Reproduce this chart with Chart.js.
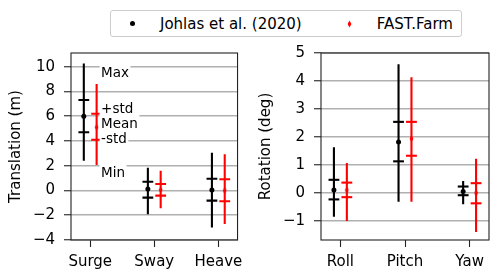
<!DOCTYPE html>
<html><head><meta charset="utf-8">
<script src="https://cdn.jsdelivr.net/npm/chart.js@4.4.0/dist/chart.umd.min.js"></script>
<style>
html,body{margin:0;padding:0;background:#fff;}
#wrap{position:relative;width:500px;height:280px;overflow:hidden;font-family:"DejaVu Sans";}
canvas{position:absolute;top:0;}
#c1{left:0px;} #c2{left:250px;}
#legend{position:absolute;left:110px;top:10px;width:352px;height:27px;border:1px solid #cccccc;border-radius:3px;background:#fff;box-sizing:border-box;font-size:15px;color:#000;line-height:17px;}
#legend span{position:absolute;top:4.6px;white-space:nowrap;}
#dot{position:absolute;left:18.7px;top:10px;width:5px;height:5px;border-radius:50%;background:#000;}
#dia{position:absolute;left:236px;top:9px;}
</style></head>
<body>
<div id="wrap">
<canvas id="c1" width="250" height="280"></canvas>
<canvas id="c2" width="250" height="280"></canvas>
<div id="legend">
  <div id="dot"></div><span style="left:49px">Johlas et al. (2020)</span>
  <svg id="dia" width="5" height="8"><polygon points="2.5,0.6 4.4,4 2.5,7.4 0.6,4" fill="#ff0000"/></svg><span style="left:265.8px">FAST.Farm</span>
</div>
</div>
<script>
// ---------- data ----------
const categoriesTrans = ['Surge', 'Sway', 'Heave'];
const categoriesRot = ['Roll', 'Pitch', 'Yaw'];
const seriesNames = ['Johlas et al. (2020)', 'FAST.Farm'];

// Translation (m)
const johlasTransMin   = [2.4, -1.93, -3.0];
const johlasTransStdLo = [4.7, -0.58, -0.82];
const johlasTransMean  = [6.0, 0.12, 0.04];
const johlasTransStdHi = [7.3, 0.7, 0.95];
const johlasTransMax   = [10.25, 1.84, 3.05];
const fastTransMin     = [2.05, -1.44, -2.7];
const fastTransStdLo   = [4.1, -0.42, -0.87];
const fastTransMean    = [5.1, 0.05, 0.0];
const fastTransStdHi   = [6.2, 0.52, 0.9];
const fastTransMax     = [8.6, 1.6, 2.92];

// Rotation (deg)
const johlasRotMin   = [-0.85, -0.31, -0.4];
const johlasRotStdLo = [-0.23, 1.13, -0.08];
const johlasRotMean  = [0.11, 1.82, 0.05];
const johlasRotStdHi = [0.47, 2.54, 0.23];
const johlasRotMax   = [1.63, 4.6, 0.43];
const fastRotMin     = [-1.0, -0.31, -1.39];
const fastRotStdLo   = [-0.15, 1.33, -0.37];
const fastRotMean    = [0.1, 1.94, 0.0];
const fastRotStdHi   = [0.37, 2.54, 0.35];
const fastRotMax     = [1.07, 4.13, 1.22];

const yTicksTrans = [-4, -2, 0, 2, 4, 6, 8, 10];
const yTicksRot = [-1, 0, 1, 2, 3, 4, 5];
const annotationLabels = ['Max', '+std', 'Mean', '-std', 'Min'];
const annotationValues = [9.6, 6.64, 5.43, 4.27, 1.47];

// ---------- drawing ----------
Chart.defaults.font.family = 'DejaVu Sans';
Chart.defaults.color = '#000';

const diamond = document.createElement('canvas');
diamond.width = 5; diamond.height = 8;
(function(){const g = diamond.getContext('2d');g.fillStyle='#ff0000';g.beginPath();g.moveTo(2.5,0.6);g.lineTo(4.4,4);g.lineTo(2.5,7.4);g.lineTo(0.6,4);g.closePath();g.fill();})();

function seriesDatasets(color, offset, mins, lo, mean, hi, maxs, meanStyle, meanRadius) {
  const whisker = [];
  mins.forEach((m, i) => { whisker.push({x: i + offset, y: m}, {x: i + offset, y: maxs[i]}, {x: i + offset, y: null}); });
  const caps = [];
  lo.forEach((v, i) => { caps.push({x: i + offset, y: v}, {x: i + offset, y: hi[i]}); });
  const means = mean.map((v, i) => ({x: i + offset, y: v}));
  return [
    {type: 'line', data: whisker, borderColor: color, borderWidth: 2.1, pointRadius: 0, spanGaps: false, fill: false},
    {type: 'scatter', data: caps, pointStyle: 'line', pointRadius: 5.4, borderColor: color, borderWidth: 2.1},
    {type: 'scatter', data: means, pointStyle: meanStyle, pointRadius: meanRadius, backgroundColor: color, borderColor: color, borderWidth: 0}
  ];
}

const framePlugin = {
  id: 'frame',
  afterDraw(chart) {
    const a = chart.chartArea, c = chart.ctx;
    c.save(); c.strokeStyle = '#222'; c.lineWidth = 1.1;
    c.strokeRect(a.left, a.top, a.right - a.left, a.bottom - a.top);
    c.restore();
  }
};

const annotPlugin = {
  id: 'annot',
  afterDatasetsDraw(chart, args, opts) {
    if (!opts.labels) return;
    const c = chart.ctx, xs = chart.scales.x, ys = chart.scales.y;
    const fs = 13.5;
    c.save();
    c.font = fs + 'px "DejaVu Sans"';
    opts.labels.forEach((t, i) => {
      const x = xs.getPixelForValue(opts.x);
      const y = ys.getPixelForValue(opts.values[i]);
      const w = c.measureText(t).width;
      c.fillStyle = '#fff';
      c.fillRect(x - 1.5, y - 9.5, w + 3, 19);
      c.fillStyle = '#000';
      c.textBaseline = 'alphabetic';
      c.fillText(t, x, y + 0.365 * fs);
    });
    c.restore();
  }
};

function fmt(v) { return v < 0 ? '\u2212' + Math.abs(v) : String(v); }

function makeChart(id, cats, datasets, yMin, yMax, yTicks, title, annot) {
  return new Chart(document.getElementById(id), {
    type: 'scatter',
    data: {datasets},
    plugins: [framePlugin, annotPlugin],
    options: {
      responsive: false, animation: false, devicePixelRatio: 1,
      layout: {padding: {left: 0, right: 11, top: 53, bottom: 0}},
      plugins: {legend: {display: false}, tooltip: {enabled: false}, annot: annot || {}},
      scales: {
        x: {
          type: 'linear', min: -0.3, max: 2.3,
          afterBuildTicks: s => { s.ticks = cats.map((c, i) => ({value: i})); },
          afterFit: s => { s.height = 40; },
          ticks: {callback: v => cats[v], font: {size: 15}, padding: 6.5, maxRotation: 0, autoSkip: false, color: '#000'},
          grid: {color: 'rgba(0,0,0,0)', tickColor: '#222', tickLength: 7, tickWidth: 1.1},
          border: {display: false}
        },
        y: {
          type: 'linear', min: yMin, max: yMax,
          afterBuildTicks: s => { s.ticks = yTicks.map(v => ({value: v})); },
          afterFit: s => { s.width = 71; },
          ticks: {callback: v => fmt(v), font: {size: 15}, padding: 9, color: '#000'},
          grid: {color: '#b0b0b0', lineWidth: 1.5, tickColor: '#222', tickLength: 7, tickWidth: 1.1},
          border: {display: false},
          title: {display: true, text: title, font: {size: 15}, padding: {top: 7, bottom: 0}, color: '#000'}
        }
      }
    }
  });
}

const transSets = [].concat(
  seriesDatasets('#000000', -0.1, johlasTransMin, johlasTransStdLo, johlasTransMean, johlasTransStdHi, johlasTransMax, 'circle', 2.5),
  seriesDatasets('#ff0000', 0.1, fastTransMin, fastTransStdLo, fastTransMean, fastTransStdHi, fastTransMax, diamond, 3)
);
const rotSets = [].concat(
  seriesDatasets('#000000', -0.1, johlasRotMin, johlasRotStdLo, johlasRotMean, johlasRotStdHi, johlasRotMax, 'circle', 2.5),
  seriesDatasets('#ff0000', 0.1, fastRotMin, fastRotStdLo, fastRotMean, fastRotStdHi, fastRotMax, diamond, 3)
);

makeChart('c1', categoriesTrans, transSets, -4, 11.1, yTicksTrans, 'Translation (m)',
  {labels: annotationLabels, values: annotationValues, x: 0.17});
makeChart('c2', categoriesRot, rotSets, -1.68, 5, yTicksRot, 'Rotation (deg)', null);
</script>
</body></html>
